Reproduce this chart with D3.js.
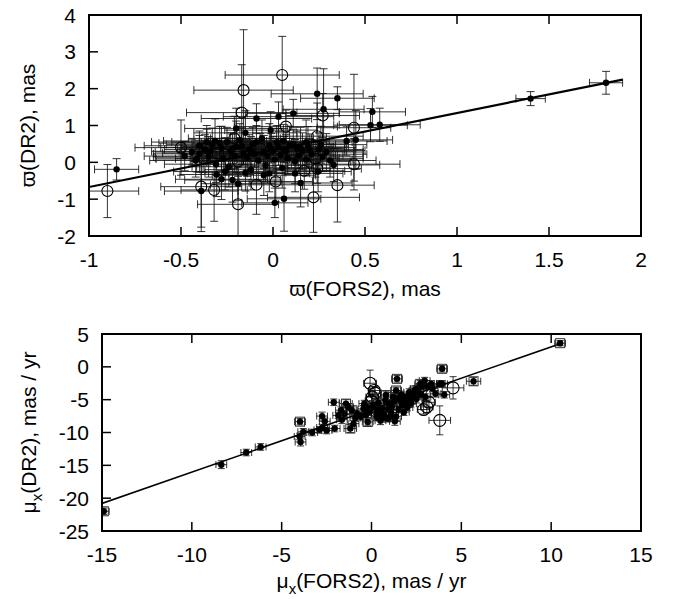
<!DOCTYPE html>
<html>
<head>
<meta charset="utf-8">
<script src="https://cdn.jsdelivr.net/npm/d3@7"></script>
<style>
  body { margin: 0; background: #fff; }
  text { font-family: "Liberation Sans", Arial, sans-serif; fill: #000; }
</style>
</head>
<body>
<div id="container"></div>
<script>
/**
 * DATA - parallax panel (top)
 * */
const plxFors = [-0.90, -0.85, -0.16, 0.05, 0.24, 0.35, 0.275, 0.27, 0.54, 0.53, 0.58, 0.44, 0.44, 0.35, 0.22, 0.15, 0.06, 0.01, -0.19, -0.32,
  -0.39, -0.39, 0.03, 0.11, 0.07, -0.09, 0.24, 1.40, 1.81, -0.50, -0.48, -0.40, -0.20, 0.40, 0.45, 0.33, 0.245, 0.17, 0.015, -0.09,
  -0.17, -0.21, -0.36, -0.15, -0.22, -0.44, -0.42, -0.37, -0.35, -0.33, -0.31, -0.30, -0.28, -0.27, -0.25, -0.24, -0.23, -0.21, -0.20, -0.19,
  -0.18, -0.16, -0.15, -0.14, -0.13, -0.12, -0.11, -0.10, -0.08, -0.07, -0.06, -0.05, -0.04, -0.03, -0.02, 0.00, 0.01, 0.02, 0.04, 0.05,
  0.06, 0.08, 0.09, 0.10, 0.12, 0.13, 0.14, 0.16, 0.18, 0.19, 0.21, 0.23, 0.25, 0.27, 0.29, 0.31, -0.38, -0.26, 0.18, -0.02,
  0.056, -0.315, -0.415, -0.306, -0.28, -0.19, -0.0125, 0.24, -0.40, -0.34, -0.29, -0.22, -0.17, -0.12, -0.09, -0.01, 0.03, 0.07,
  0.11, 0.15, 0.20, 0.26, -0.26, -0.05, 0.12, -0.36];
const plxDr2 = [-0.78, -0.19, 1.96, 2.37, 1.86, 1.74, 1.44, 1.27, 1.37, 1.01, 1.02, 0.94, -0.05, -0.62, -0.95, -0.56, -0.99, -1.10, -1.14, -0.75,
  -0.66, -0.78, 1.24, 1.33, 0.97, 1.19, 0.71, 1.73, 2.16, 0.40, 0.17, 0.23, 0.92, 0.58, 0.61, -0.07, -0.25, -0.23, -0.52, -0.61,
  1.35, 0.65, 0.40, -0.28, -0.48, 0.28, 0.05, 0.35, 0.15, 0.48, -0.05, 0.25, 0.38, 0.10, 0.55, -0.12, 0.30, 0.18, 0.42, 0.02,
  0.60, 0.25, 0.80, 0.12, 0.35, -0.20, 0.50, 0.22, 0.05, 0.38, 0.65, 0.28, -0.08, 0.18, 0.45, 0.30, 0.08, 0.55, 0.20, -0.15,
  0.35, 0.12, 0.48, 0.25, 0.02, 0.38, 0.18, 0.30, 0.08, 0.42, 0.22, 0.10, 0.35, 0.15, 0.28, 0.05, 0.12, 0.22, 0.55, -0.30,
  0.58, 0.58, 0.09, -0.33, -0.46, -0.58, 0.875, -0.17, 0.45, 0.30, 0.52, 0.36, 0.44, 0.30, 0.55, 0.38, 0.42, 0.30,
  0.50, 0.40, 0.32, 0.48, -0.25, -0.35, -0.30, 0.55];
const plxForsErr = [0.17, 0.12, 0.27, 0.31, 0.25, 0.20, 0.22, 0.20, 0.18, 0.20, 0.22, 0.20, 0.25, 0.20, 0.25, 0.28, 0.20, 0.18, 0.22, 0.18,
  0.22, 0.20, 0.30, 0.25, 0.28, 0.30, 0.25, 0.08, 0.09, 0.25, 0.22, 0.25, 0.28, 0.22, 0.20, 0.25, 0.18, 0.22, 0.20, 0.25,
  0.30, 0.25, 0.25, 0.22, 0.26, 0.20, 0.25, 0.22, 0.30, 0.25, 0.28, 0.30, 0.22, 0.26, 0.30, 0.20, 0.28, 0.24, 0.30, 0.26,
  0.25, 0.22, 0.28, 0.30, 0.20, 0.25, 0.27, 0.22, 0.30, 0.25, 0.28, 0.26, 0.22, 0.30, 0.24, 0.28, 0.25, 0.22, 0.30, 0.26,
  0.24, 0.28, 0.25, 0.22, 0.30, 0.26, 0.24, 0.28, 0.25, 0.22, 0.30, 0.26, 0.24, 0.22, 0.20, 0.25, 0.26, 0.24, 0.25, 0.22,
  0.25, 0.28, 0.22, 0.20, 0.25, 0.20, 0.25, 0.24, 0.30, 0.32, 0.33, 0.30, 0.32, 0.33, 0.30, 0.33, 0.30, 0.32,
  0.28, 0.30, 0.30, 0.25, 0.28, 0.28, 0.26, 0.30];
const plxDr2Err = [0.72, 0.29, 1.64, 1.05, 0.70, 0.31, 1.10, 0.60, 0.42, 0.45, 0.45, 1.45, 0.70, 1.00, 0.95, 0.65, 0.88, 0.40, 0.85, 0.85,
  1.10, 1.10, 0.40, 0.38, 0.45, 0.40, 0.90, 0.19, 0.31, 0.75, 0.40, 0.50, 0.55, 0.40, 0.80, 0.45, 0.55, 0.50, 0.55, 0.80,
  1.30, 0.60, 0.50, 0.50, 0.60, 0.35, 0.45, 0.40, 0.55, 0.45, 0.50, 0.35, 0.60, 0.45, 0.40, 0.55, 0.50, 0.35, 0.70, 0.40,
  0.45, 0.30, 0.60, 0.50, 0.40, 0.55, 0.45, 0.35, 0.55, 0.40, 0.50, 0.45, 0.45, 0.35, 0.60, 0.40, 0.50, 0.45, 0.40, 0.55,
  0.35, 0.45, 0.50, 0.40, 0.60, 0.45, 0.35, 0.50, 0.45, 0.55, 0.40, 0.50, 0.45, 0.40, 0.50, 0.45, 0.40, 0.45, 0.60, 0.50,
  0.45, 0.60, 0.35, 0.60, 0.55, 0.45, 0.50, 0.40, 0.40, 0.35, 0.45, 0.40, 0.50, 0.40, 0.45, 0.40, 0.50, 0.45,
  0.40, 0.55, 0.45, 0.50, 0.50, 0.55, 0.50, 0.45];
const plxOpen = [1, 0, 1, 1, 0, 0, 0, 1, 0, 0, 0, 1, 1, 1, 1, 0, 0, 0, 1, 1,
  1, 0, 0, 0, 1, 0, 1, 0, 0, 1, 0, 0, 0, 0, 0, 0, 0, 1, 1, 1,
  1, 1, 1, 0, 0, 0, 0, 0, 0, 0, 0, 1, 0, 0, 0, 0, 0, 0, 0, 1,
  0, 0, 0, 0, 0, 0, 0, 0, 0, 1, 0, 0, 0, 0, 0, 0, 0, 0, 0, 0,
  0, 0, 0, 1, 0, 0, 0, 0, 0, 0, 0, 1, 0, 0, 0, 0, 1, 1, 0, 0,
  0, 0, 0, 0, 0, 0, 0, 1, 0, 0, 0, 0, 0, 0, 0, 0, 0, 0,
  0, 0, 0, 0, 0, 0, 0, 0];
// fit line endpoints (x) and its coefficients
const plxFitX = [-1, 1.9];
const plxFitSlope = 1.005, plxFitIntercept = 0.335;

/**
 * DATA - proper motion panel (bottom)
 * marker: 0 = dot, 1 = open circle, 2 = dot in open square
 * */
const pmFors = [-14.9, -8.36, -6.97, -6.17, -3.98, -4.0, -3.95, -3.8, -3.3, -2.9, -2.75, -2.6, -2.75, -2.5, -2.1, -2.05, -1.85, -1.65, -1.42, -1.3,
  -1.18, -1.0, -0.8, -1.5, -1.1, -0.6, -0.45, -0.21, -0.08, 0.04, 0.1, 0.28, 0.52, 0.77, 0.9, 1.13, 1.37, 1.42, 1.37, 1.6,
  1.86, 2.1, 2.2, 2.47, 2.71, 2.96, 3.08, 3.2, 2.9, 3.32, 3.56, 3.8, 3.93, 3.93, 4.05, 4.54, 5.68, 10.5, 0.0, 0.2,
  0.4, 0.6, 0.3, 0.7, 1.0, 1.2, 1.5, 1.7, 1.9, 2.0, 2.3, 2.5, 2.6, 2.8, 3.0, 0.8, -0.3, -0.1, 0.5, 1.3,
  1.8, 2.2, -0.4, 0.15, 3.8, 3.4, 0.6, 1.1, 0.1, 0.35, 0.9, 1.25, 1.45, 1.65, 2.05, 2.4, 1.05, 0.45,
  -0.25, -0.9, -1.7, 3.1, 2.75];
const pmDr2 = [-22.0, -14.9, -13.05, -12.2, -8.35, -10.6, -11.45, -9.9, -10.0, -9.6, -7.5, -8.3, -9.25, -9.7, -5.4, -9.4, -7.4, -8.05, -5.6, -6.1,
  -9.4, -8.65, -7.1, -7.2, -6.6, -7.6, -6.4, -8.4, -2.5, -4.6, -6.1, -7.6, -6.9, -5.1, -7.9, -6.1, -3.6, -1.83, -7.6, -5.1,
  -4.6, -3.85, -5.6, -3.35, -2.6, -2.1, -6.1, -5.4, -6.5, -2.6, -4.1, -8.15, -0.3, -2.6, -4.25, -3.2, -2.2, 3.6, -5.2, -4.0,
  -5.5, -6.3, -7.0, -7.3, -5.6, -4.6, -6.5, -5.8, -5.3, -6.2, -4.4, -4.9, -3.9, -3.0, -4.6, -4.3, -7.3, -6.8, -8.2, -8.3,
  -6.9, -5.0, -5.6, -3.6, -2.6, -3.3, -7.8, -7.0, -5.8, -6.6, -6.4, -5.3, -4.8, -4.2, -4.8, -3.6, -7.6, -7.5,
  -6.2, -7.8, -6.6, -3.0, -4.2];
const pmForsErr = [0.3, 0.3, 0.3, 0.3, 0.3, 0.3, 0.3, 0.3, 0.3, 0.3, 0.3, 0.3, 0.3, 0.3, 0.3, 0.3, 0.3, 0.3, 0.35, 0.3,
  0.35, 0.3, 0.3, 0.3, 0.3, 0.3, 0.3, 0.3, 0.35, 0.35, 0.3, 0.3, 0.3, 0.3, 0.3, 0.3, 0.3, 0.3, 0.3, 0.3,
  0.3, 0.3, 0.3, 0.3, 0.3, 0.3, 0.35, 0.35, 0.35, 0.3, 0.3, 0.6, 0.3, 0.3, 0.3, 0.6, 0.4, 0.3, 0.35, 0.35,
  0.3, 0.3, 0.3, 0.3, 0.3, 0.3, 0.3, 0.3, 0.3, 0.3, 0.3, 0.3, 0.3, 0.3, 0.3, 0.3, 0.3, 0.3, 0.3, 0.3,
  0.3, 0.3, 0.3, 0.3, 0.3, 0.3, 0.3, 0.3, 0.3, 0.3, 0.3, 0.3, 0.3, 0.3, 0.3, 0.3, 0.3, 0.3,
  0.3, 0.3, 0.3, 0.3, 0.3];
const pmDr2Err = [0.5, 0.6, 0.5, 0.5, 0.5, 0.5, 0.6, 0.5, 0.5, 0.5, 0.6, 0.5, 0.5, 0.5, 0.5, 0.5, 0.5, 0.6, 0.6, 0.5,
  0.6, 0.5, 0.5, 0.5, 0.5, 0.5, 0.5, 0.5, 2.0, 0.9, 0.5, 0.6, 0.5, 0.5, 0.5, 0.5, 0.5, 0.5, 0.6, 0.5,
  0.5, 0.5, 0.5, 0.5, 0.5, 0.5, 0.9, 0.8, 0.7, 0.5, 0.5, 2.2, 0.5, 0.5, 0.5, 1.7, 0.6, 0.4, 1.0, 0.9,
  0.6, 0.5, 0.9, 0.8, 0.5, 0.7, 0.5, 0.6, 0.5, 0.5, 0.5, 0.6, 0.5, 0.5, 0.5, 0.6, 0.8, 0.6, 0.6, 0.6,
  0.5, 0.5, 0.5, 0.6, 0.5, 0.5, 0.6, 0.5, 0.6, 0.5, 0.5, 0.6, 0.5, 0.5, 0.5, 0.5, 0.6, 0.5,
  0.6, 0.5, 0.5, 0.5, 0.5];
const pmMarker = [2, 0, 0, 0, 2, 0, 0, 0, 0, 0, 0, 0, 0, 0, 0, 0, 0, 0, 2, 0,
  2, 0, 0, 0, 2, 0, 0, 2, 1, 1, 0, 0, 0, 0, 0, 0, 2, 2, 0, 0,
  0, 0, 0, 0, 2, 0, 1, 1, 1, 0, 0, 1, 2, 0, 0, 1, 2, 2, 1, 1,
  0, 0, 0, 0, 0, 2, 0, 0, 0, 0, 0, 0, 0, 0, 0, 2, 0, 0, 0, 0,
  0, 2, 0, 1, 0, 0, 0, 0, 0, 2, 0, 0, 2, 0, 0, 2, 0, 0,
  2, 0, 0, 0, 0];
const pmFitX = [-15, 10.5];
const pmFitSlope = 0.953, pmFitIntercept = -6.5;

/**
 * TICKS
 * */
const plxXTicks = [-1, -0.5, 0, 0.5, 1, 1.5, 2];
const plxYTicks = [-2, -1, 0, 1, 2, 3, 4];
const pmXTicks = [-15, -10, -5, 0, 5, 10, 15];
const pmYTicks = [-25, -20, -15, -10, -5, 0, 5];

/**
 * CONSTANTS AND GLOBALS
 * */
const width = 684, height = 599;
const fontSize = 21;

const svg = d3.select("#container")
  .append("svg")
  .attr("width", width)
  .attr("height", height)
  .style("display", "block");

svg.append("rect").attr("width", width).attr("height", height).attr("fill", "#fff");

// draw one panel: frame, inward ticks (left, bottom, top), error bars, markers, fit line
function drawPanel(opt) {
  const xScale = d3.scaleLinear().domain(opt.xDomain).range([opt.left, opt.right]);
  const yScale = d3.scaleLinear().domain(opt.yDomain).range([opt.bottom, opt.top]);

  const g = svg.append("g");
  const clipId = "clip-" + opt.name;
  g.append("clipPath").attr("id", clipId)
    .append("rect")
    .attr("x", opt.left).attr("y", opt.top)
    .attr("width", opt.right - opt.left).attr("height", opt.bottom - opt.top);

  const data = opt.xs.map((x, i) => ({
    x: x, y: opt.ys[i], ex: opt.exs[i], ey: opt.eys[i], m: opt.marks[i]
  }));

  const plot = g.append("g").attr("clip-path", `url(#${clipId})`);

  // + ERROR BARS
  const cap = opt.cap;
  const bars = plot.append("g")
    .attr("stroke", "#111")
    .attr("stroke-width", 1)
    .attr("stroke-opacity", 0.85)
    .attr("fill", "none");

  bars.selectAll("path")
    .data(data)
    .join("path")
    .attr("d", d => {
      const cx = xScale(d.x), cy = yScale(d.y);
      const x0 = xScale(d.x - d.ex), x1 = xScale(d.x + d.ex);
      const y0 = yScale(d.y - d.ey), y1 = yScale(d.y + d.ey);
      return `M${x0},${cy}H${x1}` +
        `M${x0},${cy - cap}V${cy + cap}M${x1},${cy - cap}V${cy + cap}` +
        `M${cx},${y0}V${y1}` +
        `M${cx - cap},${y0}H${cx + cap}M${cx - cap},${y1}H${cx + cap}`;
    });

  // + FIT LINE
  plot.append("line")
    .attr("x1", xScale(opt.fitX[0]))
    .attr("y1", yScale(opt.fitSlope * opt.fitX[0] + opt.fitIntercept))
    .attr("x2", xScale(opt.fitX[1]))
    .attr("y2", yScale(opt.fitSlope * opt.fitX[1] + opt.fitIntercept))
    .attr("stroke", "#000")
    .attr("stroke-width", opt.fitWidth);

  // + MARKERS
  plot.selectAll("circle.open")
    .data(data.filter(d => d.m === 1))
    .join("circle")
    .attr("class", "open")
    .attr("cx", d => xScale(d.x))
    .attr("cy", d => yScale(d.y))
    .attr("r", opt.openR)
    .attr("fill", "none")
    .attr("stroke", "#000")
    .attr("stroke-width", 1.1);

  plot.selectAll("rect.box")
    .data(data.filter(d => d.m === 2))
    .join("rect")
    .attr("class", "box")
    .attr("x", d => xScale(d.x) - 4.5)
    .attr("y", d => yScale(d.y) - 4.5)
    .attr("width", 9)
    .attr("height", 9)
    .attr("fill", "none")
    .attr("stroke", "#333")
    .attr("stroke-width", 1);

  plot.selectAll("circle.dot")
    .data(data.filter(d => d.m !== 1))
    .join("circle")
    .attr("class", "dot")
    .attr("cx", d => xScale(d.x))
    .attr("cy", d => yScale(d.y))
    .attr("r", opt.dotR)
    .attr("fill", "#000");

  // + TICKS (inward, mirrored on top)
  const tickLen = 9;
  const ticks = g.append("g").attr("stroke", "#000").attr("stroke-width", 1.5);
  ticks.selectAll("line.xb")
    .data(opt.xTicks)
    .join("line")
    .attr("class", "xb")
    .attr("x1", d => xScale(d)).attr("x2", d => xScale(d))
    .attr("y1", opt.bottom).attr("y2", opt.bottom - tickLen);
  ticks.selectAll("line.xt")
    .data(opt.xTicks)
    .join("line")
    .attr("class", "xt")
    .attr("x1", d => xScale(d)).attr("x2", d => xScale(d))
    .attr("y1", opt.top).attr("y2", opt.top + tickLen);
  ticks.selectAll("line.yl")
    .data(opt.yTicks)
    .join("line")
    .attr("class", "yl")
    .attr("x1", opt.left).attr("x2", opt.left + tickLen)
    .attr("y1", d => yScale(d)).attr("y2", d => yScale(d));

  // + FRAME
  g.append("rect")
    .attr("x", opt.left).attr("y", opt.top)
    .attr("width", opt.right - opt.left).attr("height", opt.bottom - opt.top)
    .attr("fill", "none")
    .attr("stroke", "#000")
    .attr("stroke-width", 2);

  // + TICK LABELS
  g.selectAll("text.xl")
    .data(opt.xTicks)
    .join("text")
    .attr("class", "xl")
    .attr("x", d => xScale(d))
    .attr("y", opt.bottom + 31)
    .attr("text-anchor", "middle")
    .attr("font-size", fontSize)
    .text(d => d);
  g.selectAll("text.yl")
    .data(opt.yTicks)
    .join("text")
    .attr("class", "yl")
    .attr("x", opt.left - 13)
    .attr("y", d => yScale(d))
    .attr("dy", "0.36em")
    .attr("text-anchor", "end")
    .attr("font-size", fontSize)
    .text(d => d);

  // + AXIS TITLES
  const xt = g.append("text")
    .attr("x", (opt.left + opt.right) / 2)
    .attr("y", opt.xTitleY)
    .attr("text-anchor", "middle")
    .attr("font-size", fontSize);
  opt.xTitle(xt);

  const yt = g.append("text")
    .attr("transform", `translate(${opt.yTitleX},${(opt.top + opt.bottom) / 2}) rotate(-90)`)
    .attr("text-anchor", "middle")
    .attr("font-size", fontSize);
  opt.yTitle(yt);
}

// title with a subscript x after mu
function muTitle(rest) {
  return t => {
    t.append("tspan").text("\u03bc");
    t.append("tspan").attr("font-size", 15).attr("dy", 6).text("x");
    t.append("tspan").attr("dy", -6).text(rest);
  };
}

drawPanel({
  name: "plx",
  left: 89, right: 641, top: 15, bottom: 236,
  xDomain: [-1, 2], yDomain: [-2, 4],
  xs: plxFors, ys: plxDr2, exs: plxForsErr, eys: plxDr2Err,
  marks: plxOpen,
  fitX: plxFitX, fitSlope: plxFitSlope, fitIntercept: plxFitIntercept, fitWidth: 2.2,
  xTicks: plxXTicks, yTicks: plxYTicks,
  cap: 4, dotR: 3.2, openR: 5.5,
  xTitleY: 296, yTitleX: 35,
  xTitle: t => t.text("\u03d6(FORS2), mas"),
  yTitle: t => t.text("\u03d6(DR2), mas")
});

drawPanel({
  name: "pm",
  left: 102, right: 641, top: 334, bottom: 531,
  xDomain: [-15, 15], yDomain: [-25, 5],
  xs: pmFors, ys: pmDr2, exs: pmForsErr, eys: pmDr2Err,
  marks: pmMarker,
  fitX: pmFitX, fitSlope: pmFitSlope, fitIntercept: pmFitIntercept, fitWidth: 1.6,
  xTicks: pmXTicks, yTicks: pmYTicks,
  cap: 3.5, dotR: 3.2, openR: 6,
  xTitleY: 588, yTitleX: 36,
  xTitle: muTitle("(FORS2), mas / yr"),
  yTitle: muTitle("(DR2), mas / yr")
});
</script>
</body>
</html>
